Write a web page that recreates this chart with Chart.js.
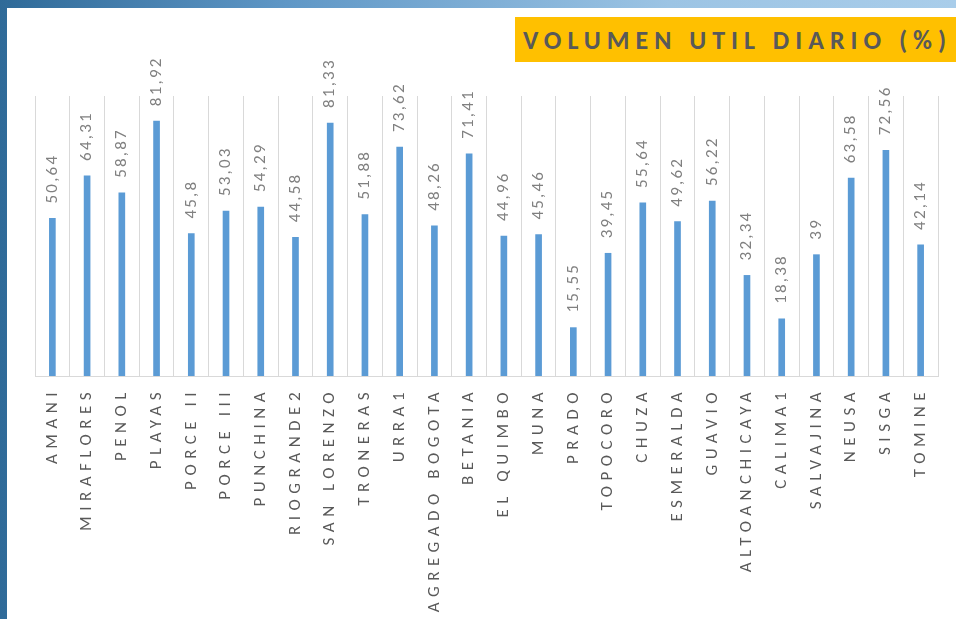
<!DOCTYPE html>
<html>
<head>
<meta charset="utf-8">
<script src="https://cdn.jsdelivr.net/npm/chart.js@4.4.0/dist/chart.umd.min.js"></script>
<style>
  html, body { margin: 0; padding: 0; width: 956px; height: 619px; overflow: hidden; }
  body {
    background: linear-gradient(90deg, #2f6a98 0%, #5f97c6 30%, #9cc4e4 70%, #a9cdea 100%);
    position: relative;
  }
  #panel {
    position: absolute; left: 7px; top: 8px; right: 0; bottom: 0;
    background: #fff;
  }
  #titulo {
    position: absolute; left: 515px; top: 17px; width: 441px; height: 45px;
    background: #ffc000; color: #595959;
    font: bold 26px Carlito, Lato, sans-serif; letter-spacing: 6px;
    line-height: 46px; padding-left: 8px; box-sizing: border-box; white-space: nowrap;
  }
  #grafico { position: absolute; left: 0; top: 0; }
</style>
</head>
<body>
<div id="panel"></div>
<div id="titulo">VOLUMEN UTIL DIARIO (%)</div>
<canvas id="grafico" width="956" height="619"></canvas>
<script>
// Datos del grafico //
const embalses = ['AMANI', 'MIRAFLORES', 'PENOL', 'PLAYAS', 'PORCE II', 'PORCE III', 'PUNCHINA',
  'RIOGRANDE2', 'SAN LORENZO', 'TRONERAS', 'URRA1', 'AGREGADO BOGOTA', 'BETANIA', 'EL QUIMBO',
  'MUNA', 'PRADO', 'TOPOCORO', 'CHUZA', 'ESMERALDA', 'GUAVIO', 'ALTOANCHICAYA', 'CALIMA1',
  'SALVAJINA', 'NEUSA', 'SISGA', 'TOMINE'];
const volumenUtil = [50.64, 64.31, 58.87, 81.92, 45.8, 53.03, 54.29, 44.58, 81.33, 51.88, 73.62,
  48.26, 71.41, 44.96, 45.46, 15.55, 39.45, 55.64, 49.62, 56.22, 32.34, 18.38, 39, 63.58, 72.56, 42.14];

const COR_BARRA = '#5b9bd5';
const COR_GRADE = '#d9d9d9';

// Texto girado 90 grados
function textoGirado(ctx, txt, x, y, alinear) {
  ctx.save();
  ctx.translate(x, y);
  ctx.rotate(-Math.PI / 2);
  ctx.textAlign = alinear;
  ctx.textBaseline = 'middle';
  ctx.fillText(txt, 0, 0);
  ctx.restore();
}

// Etiquetas del eje x y de valor
const etiquetas = {
  id: 'etiquetas',
  afterDatasetsDraw(chart) {
    const ctx = chart.ctx;
    const xs = chart.scales.x;
    const meta = chart.getDatasetMeta(0);
    ctx.save();

    ctx.font = '17px Carlito, Lato, sans-serif';
    ctx.letterSpacing = '5.5px';
    ctx.fillStyle = '#595959';
    embalses.forEach((nombre, i) => {
      // el espaciado final queda antes de la primera letra
      textoGirado(ctx, nombre, xs.getPixelForValue(i), chart.chartArea.bottom + 11, 'right');
    });

    ctx.font = '17px Carlito, Lato, sans-serif';
    ctx.letterSpacing = '2.2px';
    ctx.fillStyle = '#808080';
    meta.data.forEach((barra, i) => {
      const txt = String(volumenUtil[i]).replace('.', ',');
      textoGirado(ctx, txt, barra.x, barra.y - 15, 'left');
    });
    ctx.restore();
  }
};

new Chart(document.getElementById('grafico'), {
  type: 'bar',
  data: {
    labels: embalses,
    datasets: [{ data: volumenUtil, backgroundColor: COR_BARRA, barThickness: 6 }]
  },
  options: {
    responsive: false,
    animation: false,
    layout: { padding: { left: 35, right: 18, top: 96, bottom: 0 } },
    plugins: { legend: { display: false }, tooltip: { enabled: false } },
    scales: {
      x: {
        grid: { color: COR_GRADE, drawTicks: false, offset: true },
        border: { color: COR_GRADE },
        ticks: { display: false },
        afterFit(s) { s.height = 243; }
      },
      y: { display: false, min: 0, max: 90 }
    }
  },
  plugins: [etiquetas]
});
</script>
</body>
</html>
